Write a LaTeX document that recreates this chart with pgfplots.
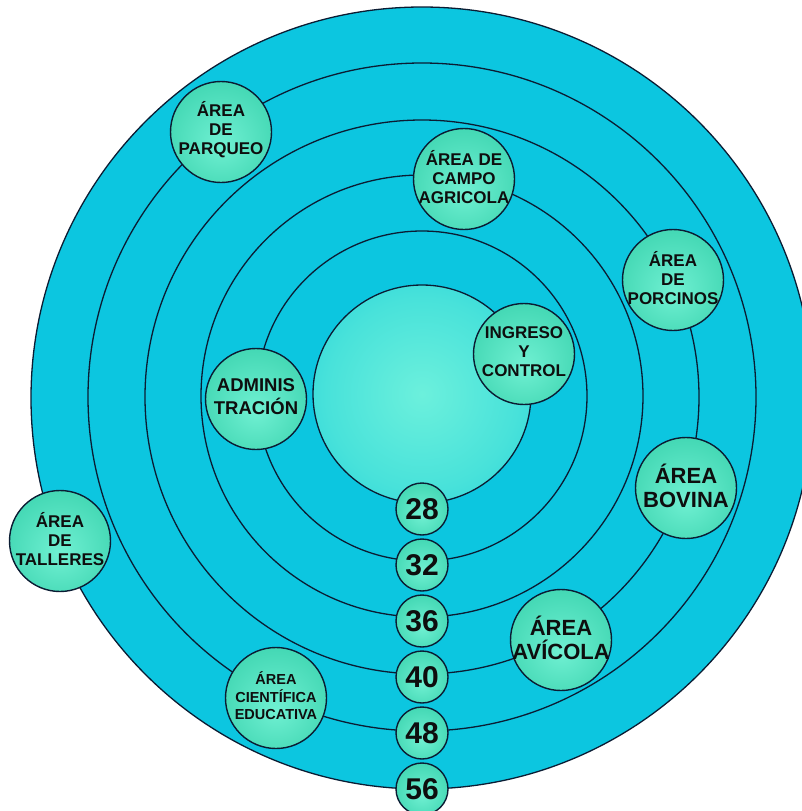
\documentclass[border=0pt]{standalone}
\usepackage{pgfplots}
\pgfplotsset{compat=1.18}
\usepackage{fontspec}
\setmainfont{Liberation Sans}

\definecolor{inkline}{HTML}{0B1C33}
\definecolor{bandlight}{HTML}{0CC6E0}
\definecolor{banddark}{HTML}{00B8D8}
\definecolor{corelight}{HTML}{6CF0DC}
\definecolor{coremid}{HTML}{48E2DA}
\definecolor{coreedge}{HTML}{08C3DF}
\definecolor{gcenter}{HTML}{70F0D2}
\definecolor{gmid}{HTML}{40D6B2}
\definecolor{gedge}{HTML}{22AA8C}
\definecolor{txt}{HTML}{0E0E0E}

\pgfdeclareradialshading{bandshade}{\pgfpoint{0bp}{0bp}}{color(0bp)=(bandlight); color(36bp)=(bandlight); color(50bp)=(banddark)}
\pgfdeclareradialshading{coreshade}{\pgfpoint{0bp}{0bp}}{color(0bp)=(corelight); color(22bp)=(coremid); color(50bp)=(coreedge)}
\pgfdeclareradialshading{nodeshade}{\pgfpoint{0bp}{-6bp}}{color(0bp)=(gcenter); color(30bp)=(gmid); color(50bp)=(gedge)}

\pgfdeclareplotmark{diskband}{%
  \pgfpathcircle{\pgfpointorigin}{\pgfplotmarksize}%
  \pgfshadepath{bandshade}{0}%
  \pgfusepath{}%
  \pgfsetstrokecolor{inkline}\pgfsetlinewidth{1.3pt}%
  \pgfpathcircle{\pgfpointorigin}{\pgfplotmarksize}%
  \pgfusepath{stroke}}
\pgfdeclareplotmark{diskcore}{%
  \pgfpathcircle{\pgfpointorigin}{\pgfplotmarksize}%
  \pgfshadepath{coreshade}{0}%
  \pgfusepath{}%
  \pgfsetstrokecolor{inkline}\pgfsetlinewidth{1.3pt}%
  \pgfpathcircle{\pgfpointorigin}{\pgfplotmarksize}%
  \pgfusepath{stroke}}
\pgfdeclareplotmark{gnode}{%
  \pgfpathcircle{\pgfpointorigin}{\pgfplotmarksize}%
  \pgfshadepath{nodeshade}{0}%
  \pgfusepath{}%
  \pgfsetstrokecolor{inkline}\pgfsetlinewidth{1.4pt}%
  \pgfpathcircle{\pgfpointorigin}{\pgfplotmarksize}%
  \pgfusepath{stroke}}

\begin{document}
\begin{tikzpicture}
\begin{axis}[
  x=1pt, y=1pt, xmin=0, xmax=802, ymin=0, ymax=811, y dir=reverse,
  hide axis, clip marker paths=true,
  lbl/.style={draw=none, nodes near coords, point meta=explicit symbolic,
    nodes near coords align={center},
    every node near coord/.append style={anchor=center, align=center, text=txt, inner sep=0pt, yshift=2pt}},
]
% concentric bands (outer first)
\addplot[scatter, only marks, mark=diskband, point meta=explicit,
  visualization depends on={\thisrow{r} \as \ringr},
  scatter/@pre marker code/.append style={/tikz/mark size=\ringr},
  scatter/@post marker code/.append style={}]
  table[meta=r] {
x y r
422 398 391
422 397 334
422 397 277
422 396 221
422 396 165
};
% central core
\addplot[only marks, mark=diskcore, mark size=109] table {
x y
422 394
};
% area nodes
\addplot[only marks, mark=gnode, mark size=50.5] table {
x y
221 132
464 179
673 280
524 354
256 399
686 488
60 541
561 640
276 698
};
% number nodes
\addplot[only marks, mark=gnode, mark size=26] table {
x y
422 509
422 565
422 621
422 677
422 733
422 789
};
% labels
\addplot[lbl, every node near coord/.append style={font=\fontsize{17}{19}\selectfont\bfseries}]
  table[col sep=semicolon, meta=label] {
x;y;label
221;132;ÁREA\\DE\\PARQUEO
464;179;ÁREA DE\\CAMPO\\AGRICOLA
673;280;ÁREA\\DE\\PORCINOS
524;354;INGRESO\\Y\\CONTROL
60;541;ÁREA\\DE\\TALLERES
};
\addplot[lbl, every node near coord/.append style={font=\fontsize{18.5}{23}\selectfont\bfseries}]
  table[col sep=semicolon, meta=label] {
x;y;label
256;399;ADMINIS\\TRACIÓN
};
\addplot[lbl, every node near coord/.append style={font=\fontsize{22}{24}\selectfont\bfseries}]
  table[col sep=semicolon, meta=label] {
x;y;label
686;488;ÁREA\\BOVINA
561;640;ÁREA\\AVÍCOLA
};
\addplot[lbl, every node near coord/.append style={font=\fontsize{14.5}{17.5}\selectfont\bfseries}]
  table[col sep=semicolon, meta=label] {
x;y;label
276;698;ÁREA\\CIENTÍFICA\\EDUCATIVA
};
\addplot[lbl, every node near coord/.append style={font=\fontsize{30}{30}\selectfont\bfseries, yshift=-2pt}]
  table[col sep=semicolon, meta=label] {
x;y;label
422;509;28
422;565;32
422;621;36
422;677;40
422;733;48
422;789;56
};
\end{axis}
\pgfresetboundingbox
\useasboundingbox (current axis.south west) rectangle (current axis.north east);
\end{tikzpicture}
\end{document}
